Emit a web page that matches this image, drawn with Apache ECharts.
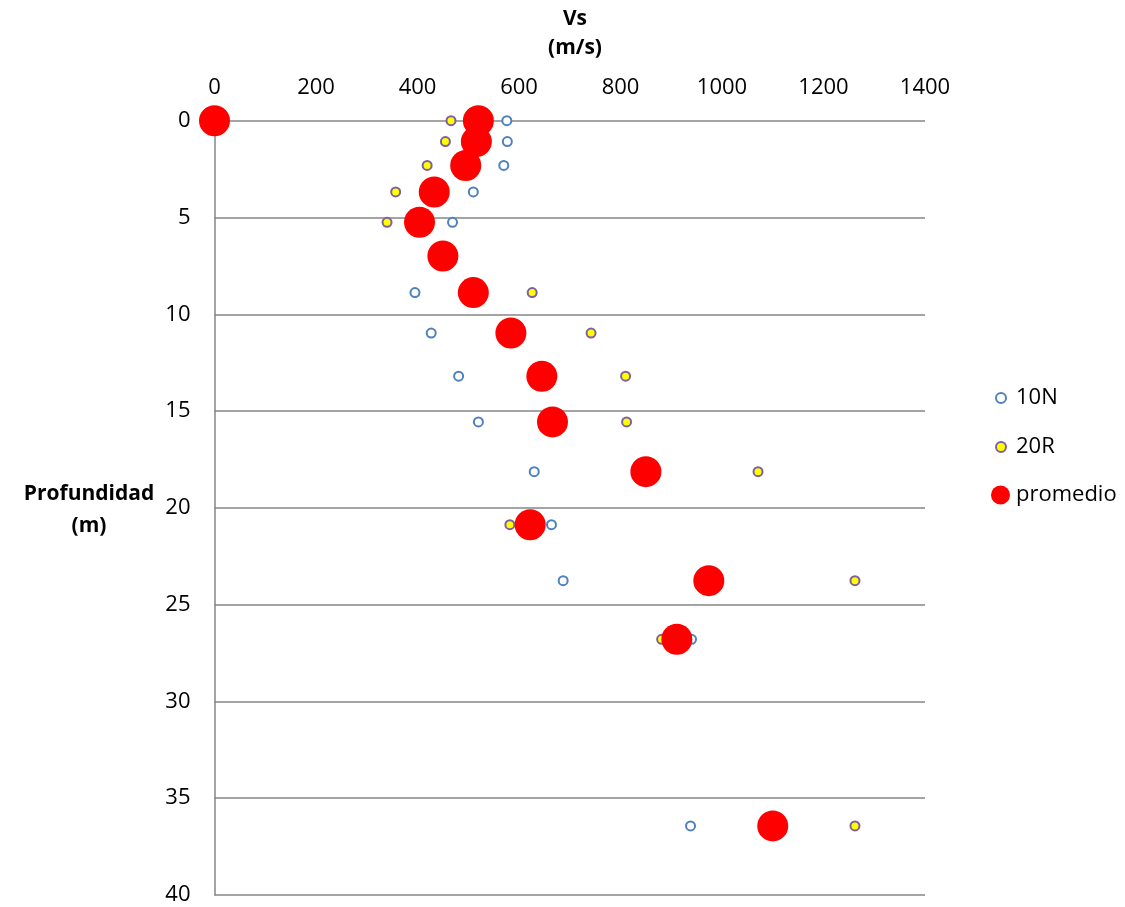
<!DOCTYPE html>
<html>
<head>
<meta charset="utf-8">
<script src="https://cdn.jsdelivr.net/npm/echarts@6/dist/echarts.min.js"></script>
<style>
html,body{margin:0;padding:0;background:#fff;}
#chart{width:1125px;height:907px;}
</style>
</head>
<body>
<div id="chart"></div>
<script>
// Depths (m) of each layer point
const depth = [0, 1.08, 2.31, 3.68, 5.25, 6.99, 8.88, 10.97, 13.2, 15.56, 18.13, 20.87, 23.76, 26.79, 36.43];
// Vs (m/s) values per series
const vs10N = [576, 577, 570, 510, 469, 460, 395, 427, 481, 520, 630, 664, 687, 940, 938];
const vs20R = [466, 455, 419, 357, 340, 440, 626, 742, 810, 812, 1071, 582, 1262, 881, 1262];
const promDepth = [0, 0, 1.08, 2.31, 3.68, 5.25, 6.99, 8.88, 10.97, 13.2, 15.56, 18.13, 20.87, 23.76, 26.79, 36.43];
const vsProm = [0, 520, 516, 495, 433, 404, 450, 510, 584, 645, 666, 850, 622, 974, 911, 1100];
const xTicks = [0, 200, 400, 600, 800, 1000, 1200, 1400];
const yTicks = [0, 5, 10, 15, 20, 25, 30, 35, 40];

const FONT = '"Open Sans", "Noto Sans", sans-serif';
const pair = (xs, ys) => xs.map((v, i) => [v, ys[i]]);

const chart = echarts.init(document.getElementById('chart'));
chart.setOption({
  animation: false,
  backgroundColor: '#ffffff',
  title: [
    { text: 'Vs\n(m/s)', left: 570, top: 0, textAlign: 'center',
      textStyle: { fontFamily: FONT, fontSize: 21, fontWeight: 'bold', color: '#000', lineHeight: 29 } },
    { text: 'Profundidad\n(m)', left: 84, top: 473, textAlign: 'center',
      textStyle: { fontFamily: FONT, fontSize: 21, fontWeight: 'bold', color: '#000', lineHeight: 32 } }
  ],
  grid: { left: 214.5, right: 200, top: 120.7, bottom: 12, containLabel: false },
  xAxis: {
    type: 'value', position: 'top', min: 0, max: 1400, interval: 200,
    axisLine: { show: false }, axisTick: { show: false }, splitLine: { show: false },
    axisLabel: { fontFamily: FONT, fontSize: 22, color: '#000', margin: 22,
      formatter: v => String(v), customValues: xTicks }
  },
  yAxis: {
    type: 'value', inverse: true, min: 0, max: 40, interval: 5,
    axisLine: { show: true, lineStyle: { color: '#868686', width: 1.5 } },
    axisTick: { show: false },
    splitLine: { show: true, lineStyle: { color: '#868686', width: 1.5 } },
    axisLabel: { fontFamily: FONT, fontSize: 22, color: '#000', margin: 24,
      formatter: v => String(v), customValues: yTicks }
  },
  legend: [
    { orient: 'vertical', left: 990, top: 382, itemWidth: 10, itemHeight: 10,
      data: ['10N'], textStyle: { fontFamily: FONT, fontSize: 22, color: '#000', padding: [0, 0, 0, 5] } },
    { orient: 'vertical', left: 990, top: 431, itemWidth: 10, itemHeight: 10,
      data: ['20R'], textStyle: { fontFamily: FONT, fontSize: 22, color: '#000', padding: [0, 0, 0, 5] } },
    { orient: 'vertical', left: 986, top: 479, itemWidth: 19, itemHeight: 19,
      data: ['promedio'], textStyle: { fontFamily: FONT, fontSize: 22, color: '#000', padding: [0, 0, 0, 1] } }
  ],
  series: [
    { name: '10N', type: 'scatter', symbol: 'circle', symbolSize: 9,
      itemStyle: { color: '#ffffff', borderColor: '#4F81BD', borderWidth: 2, opacity: 1 },
      data: pair(vs10N, depth), z: 2 },
    { name: '20R', type: 'scatter', symbol: 'circle', symbolSize: 9,
      itemStyle: { color: '#FFFF00', borderColor: '#7F5F9F', borderWidth: 2, opacity: 1 },
      data: pair(vs20R, depth), z: 3 },
    { name: 'promedio', type: 'scatter', symbol: 'circle', symbolSize: 31,
      itemStyle: { color: '#FF0000', opacity: 1 },
      data: pair(vsProm, promDepth), z: 4 }
  ]
});
</script>
</body>
</html>
